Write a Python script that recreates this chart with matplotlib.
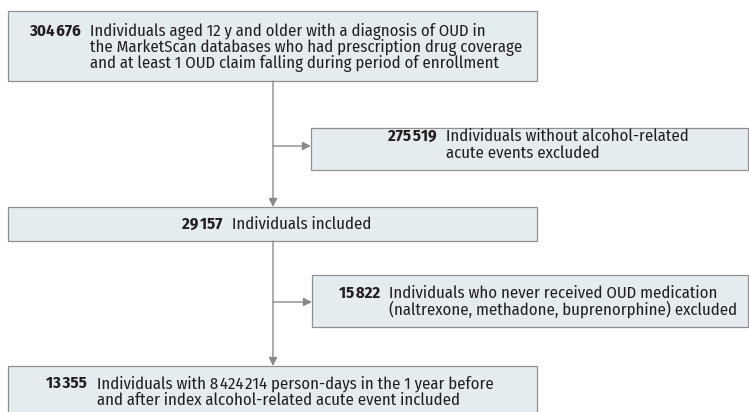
import matplotlib.pyplot as plt
from matplotlib.patches import Rectangle, FancyArrowPatch

# flowchart contents
counts = ["304\u200a676", "275\u200a519", "29\u200a157", "15\u200a822", "13\u200a355"]
labels = [
    "Individuals aged 12 y and older with a diagnosis of OUD in\n"
    "the MarketScan databases who had prescription drug coverage\n"
    "and at least 1 OUD claim falling during period of enrollment",
    "Individuals without alcohol-related\nacute events excluded",
    "Individuals included",
    "Individuals who never received OUD medication\n(naltrexone, methadone, buprenorphine) excluded",
    "Individuals with 8\u200a424\u200a214 person-days in the 1 year before\nand after index alcohol-related acute event included",
]

FILL = "#e5ecf0"
EDGE = "#909090"
LINE = "#8a8a8a"
INK = "#231f20"
FONT = ["Fira Sans Condensed", "Barlow Semi Condensed", "DejaVu Sans"]
FS = 12

# box geometry in pixels: x0, y0, x1, y1
boxes = [(8, 11, 537, 81), (311, 128, 748, 170), (8, 207, 537, 241),
         (312, 275, 748, 327), (8, 366, 537, 414)]
# number right edge x, text left x, first baseline y, line step
text_pos = [(81, 90, 36, 16), (437, 446, 141, 16.5), (222, 232, 229, 16),
            (380, 389, 298, 16.5), (87, 97, 388.5, 16.5)]

fig = plt.figure(figsize=(7.49, 4.12), dpi=100)
ax = fig.add_axes([0, 0, 1, 1])
ax.set_xlim(0, 749)
ax.set_ylim(412, 0)
ax.axis("off")

for (x0, y0, x1, y1) in boxes:
    ax.add_patch(Rectangle((x0, y0), x1 - x0, y1 - y0, facecolor=FILL,
                           edgecolor=EDGE, linewidth=0.9))

for n, lab, (xn, xt, yb, step) in zip(counts, labels, text_pos):
    ax.text(xn, yb, n, ha="right", va="baseline", fontsize=FS,
            fontweight="bold", family=FONT, color=INK)
    for i, line in enumerate(lab.split("\n")):
        ax.text(xt, yb + i * step, line, ha="left", va="baseline",
                fontsize=FS, family=FONT, color=INK)

def arrow(p0, p1):
    ax.add_patch(FancyArrowPatch(p0, p1, arrowstyle="-|>,head_length=5,head_width=2.5",
                                 color=LINE, linewidth=1.0, shrinkA=0, shrinkB=0))

# main vertical lines and side branches
arrow((273, 81), (273, 207))
arrow((273, 146), (311, 146))
arrow((273, 241), (273, 366))
arrow((273, 302), (312, 302))

fig.savefig("out.png", dpi=100)
